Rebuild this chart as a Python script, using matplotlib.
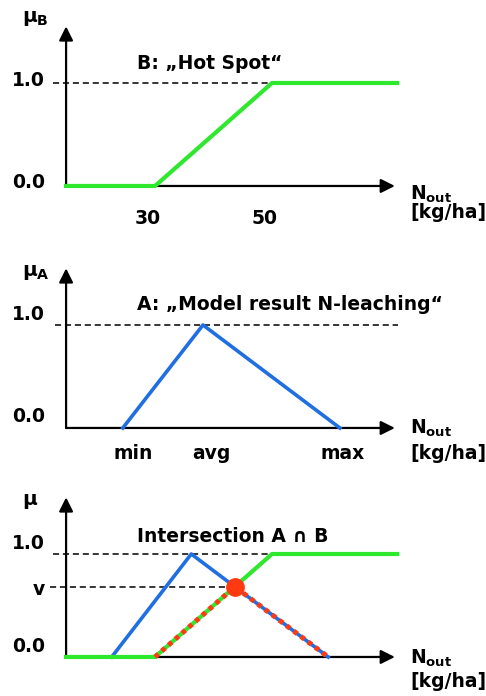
import matplotlib.pyplot as plt
import numpy as np

plt.rcParams['font.family'] = ['DejaVu Sans']
plt.rcParams['font.weight'] = 'bold'
plt.rcParams['mathtext.fontset'] = 'custom'
plt.rcParams['mathtext.rm'] = 'DejaVu Sans:bold'
plt.rcParams['mathtext.it'] = 'DejaVu Sans:bold'
plt.rcParams['mathtext.bf'] = 'DejaVu Sans:bold'

# B: "Hot Spot" membership (x in kg/ha)
hot_x = [14.8, 30, 50, 71.4]
hot_y = [0, 0, 1, 1]
hot_ticks = [30, 50]
hot_tick_labels = ['30', '50']

# A: model result N-leaching
model_x = [24.5, 38.2, 61.6]
model_y = [0, 1, 0]
model_tick_labels = ['min', 'avg', 'max']

# A as drawn in the intersection panel
model3_x = [22.6, 36.2, 59.6]
model3_y = [0, 1, 0]

GREEN = '#2EE82E'
BLUE = '#1F6FE3'
RED = '#FF3A10'
FS = 13.5

X0, X1 = 14.8, 71.0   # axis origin / arrow tip
YTOP = 1.55


def seg_cross(p1, p2, q1, q2):
    # intersection of segment p1-p2 with q1-q2
    p1, p2, q1, q2 = map(np.array, (p1, p2, q1, q2))
    d1 = p2 - p1
    d2 = q2 - q1
    t = np.cross(q1 - p1, d2) / np.cross(d1, d2)
    return p1 + t * d1


def draw_axes(ax, ylim, ylabel, ylab_y, n_y, kg_y, one_y, zero_y):
    ax.set_xlim(3.504, 86.58)
    ax.set_ylim(*ylim)
    ax.axis('off')
    arrow = dict(arrowstyle='-|>,head_length=0.6,head_width=0.3', lw=1.6,
                 color='black', mutation_scale=14, shrinkA=0, shrinkB=0)
    ax.annotate('', xy=(X1, 0), xytext=(X0, 0), arrowprops=arrow, zorder=1)
    ax.annotate('', xy=(X0, YTOP), xytext=(X0, 0), arrowprops=arrow, zorder=1)
    ax.text(7.3, ylab_y, ylabel, fontsize=FS + 1, ha='left', va='center')
    ax.text(11.2, one_y, '1.0', fontsize=FS, ha='right', va='center')
    ax.text(11.2, zero_y, '0.0', fontsize=FS, ha='right', va='center')
    ax.text(73.6, n_y, r'$N_{out}$', fontsize=FS, ha='left', va='baseline')
    ax.text(73.6, kg_y, '[kg/ha]', fontsize=FS, ha='left', va='center')


fig = plt.figure(figsize=(4.86, 6.96), dpi=100)
h = 232 / 696
dash = dict(color='black', lw=1.1, dashes=(4, 2.5), zorder=2)

# panel 1: B
ax1 = fig.add_axes([0, 2 * h, 1, h])
draw_axes(ax1, (-0.447, 1.806), r'$μ_B$', 1.63, -0.136, -0.26, 1.02, 0.03)
ax1.plot([12.56, hot_x[2]], [1, 1], **dash)
ax1.plot(hot_x, hot_y, color=GREEN, lw=3, zorder=3)
for xt, lab in zip(hot_ticks, hot_tick_labels):
    ax1.text(xt - 1.3, -0.32, lab, fontsize=FS, ha='center', va='center')
ax1.text(26.9, 1.19, 'B: \u201eHot Spot\u201c', fontsize=FS, ha='left', va='center')

# panel 2: A
ax2 = fig.add_axes([0, h, 1, h])
draw_axes(ax2, (-0.35, 1.903), r'$μ_A$', 1.51, -0.058, -0.25, 1.10, 0.107)
ax2.plot([12.9, 71.5], [1, 1], **dash)
ax2.plot(model_x, model_y, color=BLUE, lw=2.6, zorder=3)
for xt, lab, dx in zip(model_x, model_tick_labels, [1.7, 1.5, 0.4]):
    ax2.text(xt + dx, -0.25, lab, fontsize=FS, ha='center', va='center')
ax2.text(26.9, 1.20, 'A: \u201eModel result N-leaching\u201c', fontsize=FS,
         ha='left', va='center')

# panel 3: intersection
ax3 = fig.add_axes([0, 0, 1, h])
draw_axes(ax3, (-0.379, 1.874), r'$μ$', 1.51, -0.068, -0.24, 1.10, 0.10)
ix, iv = seg_cross((hot_x[1], hot_y[1]), (hot_x[2], hot_y[2]),
                   (model3_x[1], model3_y[1]), (model3_x[2], model3_y[2]))
ax3.plot([12.56, hot_x[2]], [1, 1], **dash)
ax3.plot([12.05, ix], [iv, iv], **dash)
ax3.text(11.2, iv - 0.03, 'v', fontsize=FS, ha='right', va='center')
ax3.plot(model3_x, model3_y, color=BLUE, lw=2.6, zorder=3)
ax3.plot(hot_x, hot_y, color=GREEN, lw=3, zorder=3)
ax3.plot([hot_x[1], ix, model3_x[2]], [0, iv, 0], color=RED, lw=3.6,
         linestyle=(0, (0.9, 0.9)), dash_capstyle='butt', zorder=4)
ax3.plot([ix], [iv], 'o', color=RED, markersize=12.5, zorder=5)
ax3.text(26.9, 1.17, 'Intersection A \u2229 B', fontsize=FS, ha='left', va='center')

fig.savefig('out.png', dpi=100)
